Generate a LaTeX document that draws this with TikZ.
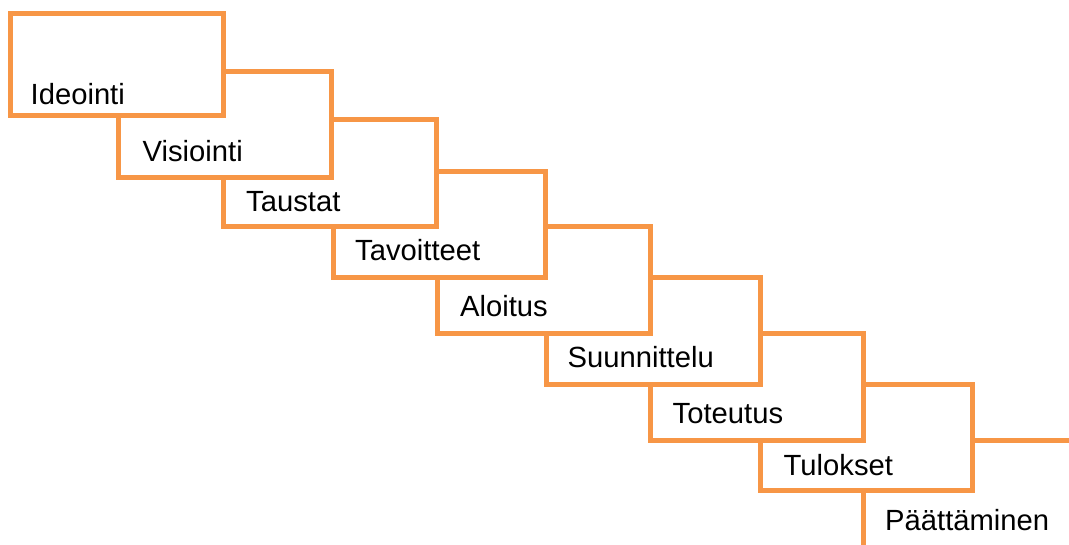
\documentclass[tikz,border=0pt]{standalone}
\usepackage{fontspec}
\setmainfont{Liberation Sans}
\definecolor{stair}{RGB}{247,150,70}
\begin{document}
\begin{tikzpicture}[x=1pt,y=-1pt,
  stairbox/.style={draw=stair,line width=5pt,fill=white},
  lbl/.style={anchor=base west,inner sep=0pt,font=\fontsize{29.2}{35}\selectfont}]
\useasboundingbox (0,0) rectangle (1069,544);
\clip (0,0) rectangle (1069,544);
% boxes drawn from last to first so that earlier ones lie on top
\draw[stairbox] (863.5,440) rectangle (1090,600);
\draw[stairbox] (760,384.8) rectangle (972.5,490.8);
\draw[stairbox] (650,333.5) rectangle (863.5,440);
\draw[stairbox] (546.3,277.5) rectangle (760,384);
\draw[stairbox] (437,226.7) rectangle (650,333.5);
\draw[stairbox] (333,171.5) rectangle (545.8,277.5);
\draw[stairbox] (223.7,119) rectangle (436.3,226.7);
\draw[stairbox] (118.3,71.3) rectangle (331.7,177.5);
\draw[stairbox] (10.3,13.7) rectangle (223,115.7);
% labels
\node[lbl] (t1) at (30.5,104) {Ideointi};
\node[lbl] (t2) at (142.5,161.7) {Visiointi};
\node[lbl] (t3) at (246,211) {Taustat};
\node[lbl] (t4) at (355,260) {Tavoitteet};
\node[lbl] (t5) at (460,316.7) {Aloitus};
\node[lbl] (t6) at (567.5,367.3) {Suunnittelu};
\node[lbl] (t7) at (672.5,423.3) {Toteutus};
\node[lbl] (t8) at (783.5,475) {Tulokset};
\node[lbl] (t9) at (885,530) {Päättäminen};
\end{tikzpicture}
\end{document}
